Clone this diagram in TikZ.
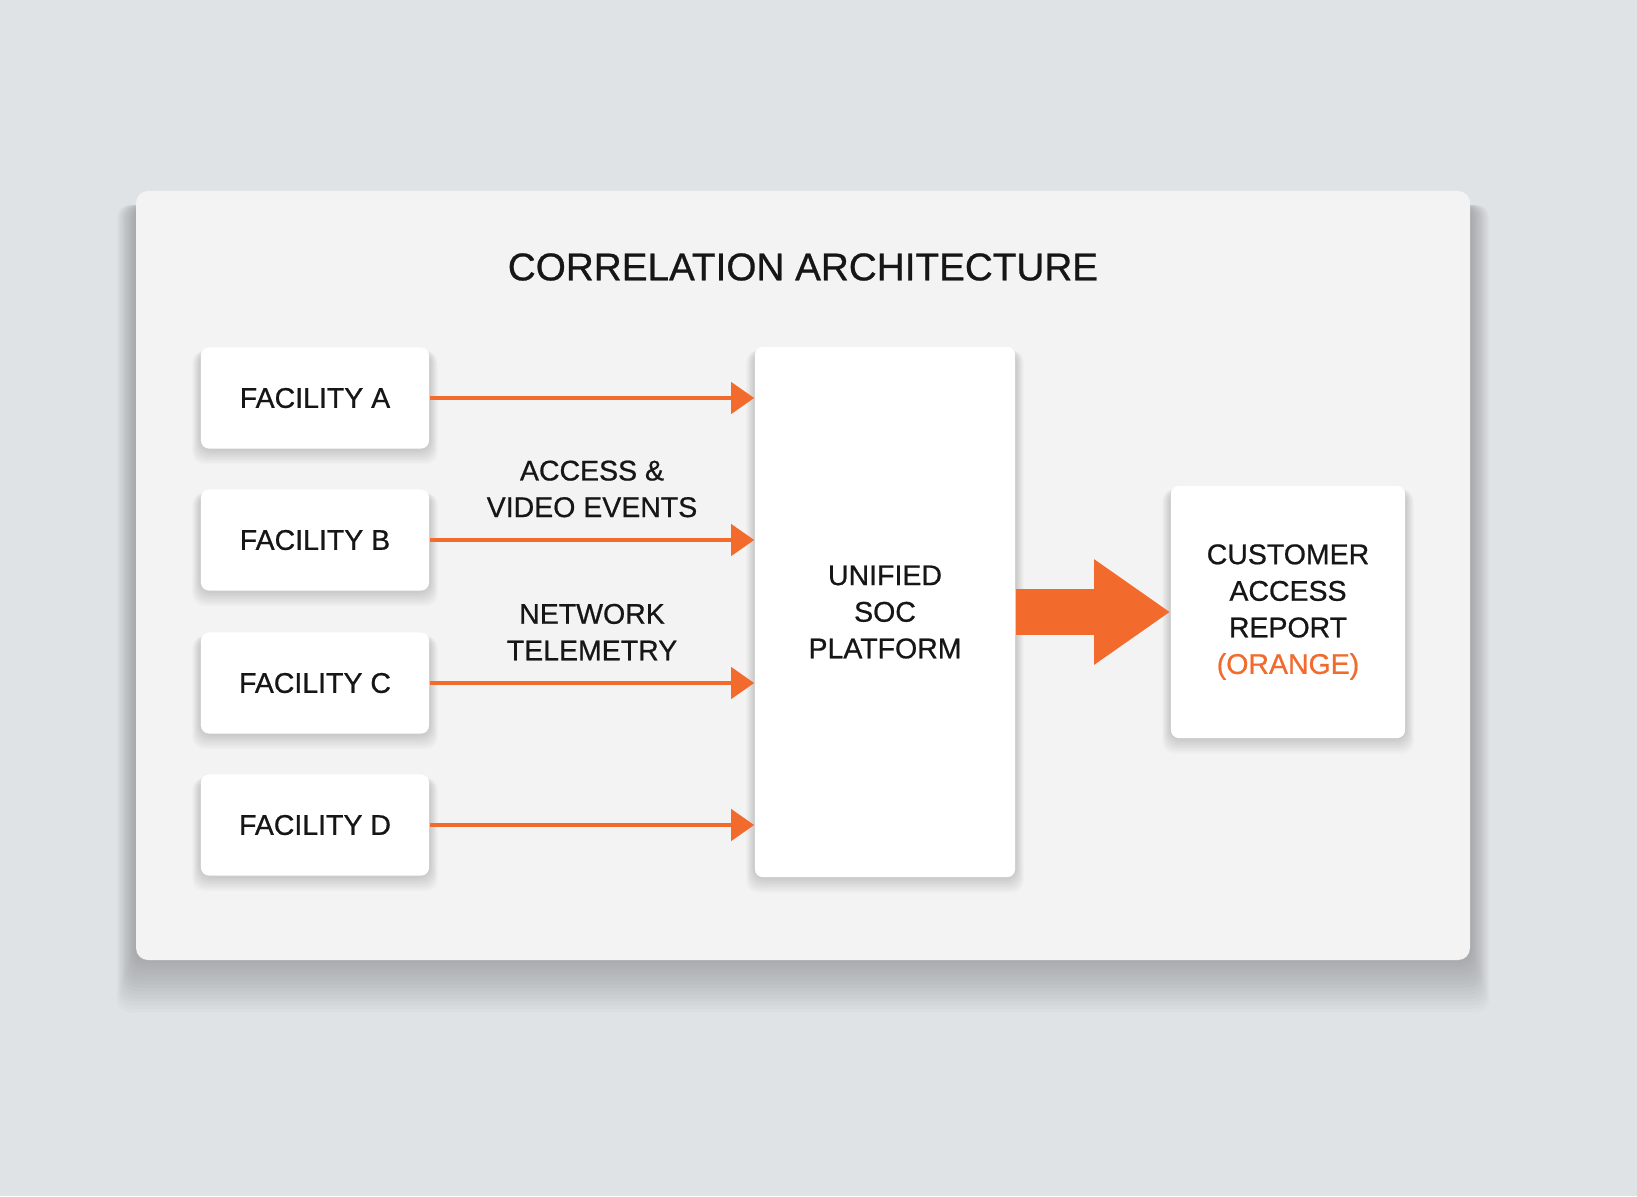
\documentclass[tikz,border=0pt]{standalone}
\usepackage{fontspec}
\setmainfont{Liberation Sans}[FakeBold=0.7]
\usetikzlibrary{arrows.meta,calc,backgrounds}
\definecolor{bgcol}{RGB}{224,227,230}
\definecolor{panelcol}{RGB}{243,243,243}
\definecolor{orng}{RGB}{242,106,44}
\definecolor{ink}{RGB}{22,22,22}
\begin{document}
\begin{tikzpicture}[x=0.01cm, y=-0.01cm, line join=round, >=Triangle,
	font=\fontsize{8.1}{10.4}\selectfont, text=ink,
	box/.style={fill=white, rounded corners=0.08cm, align=center, inner sep=0pt},
	facbox/.style={box, minimum width=2.28cm, minimum height=1.01cm},
	flow/.style={draw=orng, line width=0.04cm, -{Triangle[length=0.23cm, width=0.31cm]}},
	bigflow/.style={draw=orng, line width=0.46cm, -{Triangle[length=0.76cm, width=1.0cm]}},
	lbl/.style={align=center, inner sep=0pt},
	shade step/.style={fill=black, opacity=0.016, rounded corners=0.12cm}]
	\useasboundingbox (0,0) rectangle (1637,1196);
	\node[lbl, font=\fontsize{11}{13}\selectfont] (title) at (803,267) {CORRELATION ARCHITECTURE};
	% platform and report
	\node[box, minimum width=2.6cm, minimum height=5.3cm] (soc) at (885,612) {UNIFIED\\SOC\\PLATFORM};
	\node[box, minimum width=2.34cm, minimum height=2.52cm] (rep) at (1288,612)
		{CUSTOMER\\ACCESS\\REPORT\\\textcolor{orng}{(ORANGE)}};
	% facilities
	\foreach \n/\y in {A/398,B/540,C/683,D/825}{
		\node[facbox] (fac\n) at (315,\y) {FACILITY \n};
		\draw[flow] (fac\n.east) -- (fac\n.east -| soc.west);
	}
	\node[lbl, above=0.22cm] (lblB) at ($(facB.east)!0.5!(facB.east -| soc.west)$) {ACCESS \&\\VIDEO EVENTS};
	\node[lbl, above=0.22cm] (lblC) at ($(facC.east)!0.5!(facC.east -| soc.west)$) {NETWORK\\TELEMETRY};
	\draw[bigflow] (soc.east) -- (rep.west);
	% backdrop, panel and soft shadows
	\begin{scope}[on background layer]
		\fill[bgcol] (0,0) rectangle (1637,1196);
		\foreach \i in {1,...,16}
		\fill[shade step] (136-1.2*\i,205) rectangle (1470+1.2*\i,956+3.5*\i);
		\fill[panelcol, rounded corners=0.12cm] (136,191) rectangle (1470,960);
		\foreach \nd in {facA,facB,facC,facD,soc,rep}
		\foreach \i in {1,...,10}
		\fill[shade step] ($(\nd.north west)+(-0.8*\i,4)$) rectangle ($(\nd.south east)+(0.8*\i,1.5*\i)$);
	\end{scope}
\end{tikzpicture}
\end{document}
